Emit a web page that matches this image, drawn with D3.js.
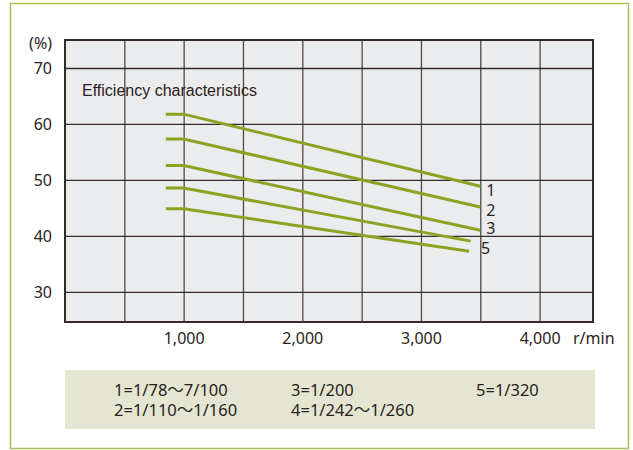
<!DOCTYPE html>
<html>
  <head>
    <title>Efficiency characteristics</title>
    <script src="https://cdnjs.cloudflare.com/ajax/libs/d3/7.8.5/d3.min.js"></script>
    <style>
      body { margin: 0; background: #fff; }
      text { fill: #2b2220; }
    </style>
  </head>
  <body>
    <svg width="633" height="450"></svg>
    <script>
      // values
      const seriesNames = ["1", "2", "3", "4", "5"];
      const speeds1 = [850, 1000, 3500];
      const speeds4 = [850, 1000, 3420];
      const speeds5 = [850, 1000, 3405];
      const eff1 = [61.75, 61.75, 48.85];
      const eff2 = [57.3, 57.3, 45.15];
      const eff3 = [52.55, 52.55, 41.0];
      const eff4 = [48.55, 48.55, 39.05];
      const eff5 = [44.85, 44.85, 37.25];
      const showLabel = [true, true, true, false, true];

      const xTickLabels = [1000, 2000, 3000, 4000];
      const xGridValues = [500, 1000, 1500, 2000, 2500, 3000, 3500, 4000];
      const yTickLabels = [30, 40, 50, 60, 70];

      const legendRows = [
        ["1=1/78\u301C7/100", "3=1/200", "5=1/320"],
        ["2=1/110\u301C1/160", "4=1/242\u301C1/260", ""]
      ];

      const series = [
        {name: seriesNames[0], xs: speeds1, ys: eff1, dx: 6, dy: 10},
        {name: seriesNames[1], xs: speeds1, ys: eff2, dx: 6, dy: 9},
        {name: seriesNames[2], xs: speeds1, ys: eff3, dx: 6, dy: 4},
        {name: seriesNames[3], xs: speeds4, ys: eff4, dx: 6, dy: 4},
        {name: seriesNames[4], xs: speeds5, ys: eff5, dx: 12, dy: 3}
      ];

      const svg = d3.select("svg");
      const font = "'Noto Sans', 'Noto Sans CJK JP', sans-serif";
      const lineColor = "#8ca223";
      const gridColor = "#352b28";

      // outer green frame
      svg.append("rect")
        .attr("x", 10.5).attr("y", 3.5)
        .attr("width", 618).attr("height", 445)
        .attr("fill", "none")
        .attr("stroke", "#a9c05c")
        .attr("stroke-width", 1.5);

      const plot = {left: 65, top: 40, right: 593, bottom: 322};
      const innerWidth = plot.right - plot.left;
      const innerHeight = plot.bottom - plot.top;

      const x = d3.scaleLinear().domain([0, 4450]).range([plot.left, plot.right]);
      const y = d3.scaleLinear().domain([24.6, 75]).range([plot.bottom, plot.top]);

      svg.append("rect")
        .attr("x", plot.left).attr("y", plot.top)
        .attr("width", innerWidth).attr("height", innerHeight)
        .attr("fill", "#ebecee");

      // grid
      const xGrid = svg.append("g")
        .attr("transform", `translate(0, ${plot.bottom})`)
        .call(d3.axisBottom(x).tickValues(xGridValues).tickSize(-innerHeight).tickFormat(""));
      xGrid.select(".domain").remove();
      xGrid.selectAll("text").remove();
      xGrid.selectAll("line").attr("stroke", gridColor).attr("stroke-width", 1.3).attr("stroke-opacity", 0.85);

      const yGrid = svg.append("g")
        .attr("transform", `translate(${plot.left}, 0)`)
        .call(d3.axisLeft(y).tickValues(yTickLabels).tickSize(-innerWidth).tickFormat(""));
      yGrid.select(".domain").remove();
      yGrid.selectAll("text").remove();
      yGrid.selectAll("line").attr("stroke", gridColor).attr("stroke-width", 1.3);

      // frame
      svg.append("rect")
        .attr("x", plot.left).attr("y", plot.top)
        .attr("width", innerWidth).attr("height", innerHeight)
        .attr("fill", "none")
        .attr("stroke", gridColor)
        .attr("stroke-width", 2);

      // axis labels
      const xAxis = svg.append("g")
        .attr("transform", `translate(0, ${plot.bottom})`)
        .call(d3.axisBottom(x).tickValues(xTickLabels).tickSize(0).tickPadding(0).tickFormat(d3.format(",")))
        .attr("font-family", font)
        .attr("font-size", 16);
      xAxis.select(".domain").remove();
      xAxis.selectAll("text")
        .attr("dy", null)
        .attr("y", 22)
        .attr("fill", "#2b2220");

      const yAxis = svg.append("g")
        .attr("transform", `translate(52, 0)`)
        .call(d3.axisLeft(y).tickValues(yTickLabels).tickSize(0).tickPadding(0))
        .attr("font-family", font)
        .attr("font-size", 16);
      yAxis.select(".domain").remove();
      yAxis.selectAll("text")
        .attr("dy", "0.36em")
        .attr("fill", "#2b2220");

      svg.append("text")
        .attr("x", 52).attr("y", 49)
        .attr("text-anchor", "end")
        .attr("font-family", font)
        .attr("font-size", 16)
        .text("(%)");

      svg.append("text")
        .attr("x", 573).attr("y", 344)
        .attr("font-family", font)
        .attr("font-size", 16)
        .text("r/min");

      svg.append("text")
        .attr("x", 82).attr("y", 95.5)
        .attr("font-family", "'Liberation Sans', Arial, sans-serif")
        .attr("font-size", 16)
        .text("Efficiency characteristics");

      // curves
      const line = d3.line()
        .x(d => x(d[0]))
        .y(d => y(d[1]));

      svg.append("g").selectAll("path")
        .data(series)
        .join("path")
          .attr("d", d => line(d3.zip(d.xs, d.ys)))
          .attr("fill", "none")
          .attr("stroke", lineColor)
          .attr("stroke-width", 3);

      svg.append("g").selectAll("text")
        .data(series.filter((d, i) => showLabel[i]))
        .join("text")
          .attr("x", d => x(d.xs[d.xs.length - 1]) + d.dx)
          .attr("y", d => y(d.ys[d.ys.length - 1]) + d.dy)
          .attr("font-family", font)
          .attr("font-size", 16)
          .text(d => d.name);

      // legend box
      svg.append("rect")
        .attr("x", 65).attr("y", 370)
        .attr("width", 530).attr("height", 59)
        .attr("fill", "#e4e6d1");

      const colX = [114, 291, 476];
      const rowY = [396, 416];
      legendRows.forEach((row, r) => {
        row.forEach((label, c) => {
          if (!label) return;
          svg.append("text")
            .attr("x", colX[c]).attr("y", rowY[r])
            .attr("font-family", font)
            .attr("font-size", 16.5)
            .text(label);
        });
      });
    </script>
  </body>
</html>
